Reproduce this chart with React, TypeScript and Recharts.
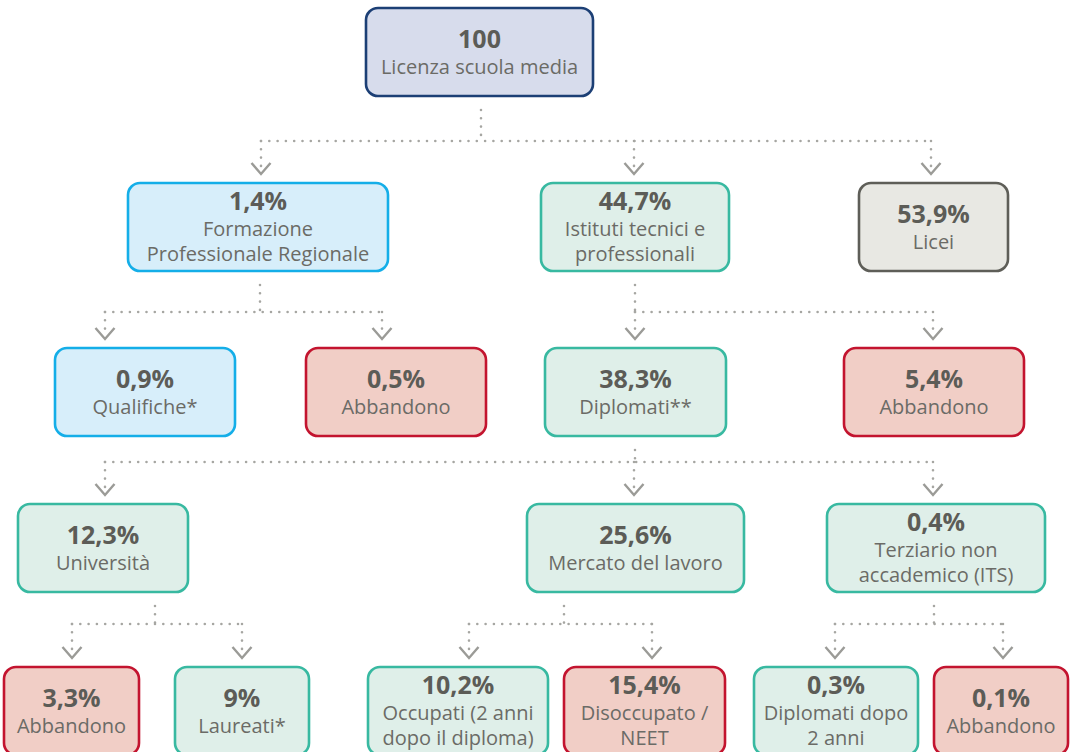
import { ScatterChart, Scatter, XAxis, YAxis, ReferenceLine } from 'recharts';

// flow values and labels
const nodeValues = ['100', '1,4%', '44,7%', '53,9%', '0,9%', '0,5%', '38,3%', '5,4%', '12,3%', '25,6%', '0,4%', '3,3%', '9%', '10,2%', '15,4%', '0,3%', '0,1%'];
const nodeLabels = [
  ['Licenza scuola media'],
  ['Formazione', 'Professionale Regionale'],
  ['Istituti tecnici e', 'professionali'],
  ['Licei'],
  ['Qualifiche*'],
  ['Abbandono'],
  ['Diplomati**'],
  ['Abbandono'],
  ['Università'],
  ['Mercato del lavoro'],
  ['Terziario non', 'accademico (ITS)'],
  ['Abbandono'],
  ['Laureati*'],
  ['Occupati (2 anni', 'dopo il diploma)'],
  ['Disoccupato /', 'NEET'],
  ['Diplomati dopo', '2 anni'],
  ['Abbandono'],
];
const nodeKinds = ['root', 'fpr', 'tech', 'licei', 'fpr', 'drop', 'tech', 'drop', 'tech', 'tech', 'tech', 'drop', 'tech', 'tech', 'drop', 'tech', 'drop'];
const nodeParents = [-1, 0, 0, 0, 1, 1, 2, 2, 6, 6, 6, 8, 8, 9, 9, 10, 10];
const nodeLevels = [0, 1, 1, 1, 2, 2, 2, 2, 3, 3, 3, 4, 4, 4, 4, 4, 4];

// layout (diagram units)
const boxCenterX = [479.5, 258, 635, 933.5, 145, 396, 635.5, 934, 103, 635.5, 936, 71.5, 242, 458, 644.5, 836, 1001];
const boxWidth = [227, 260, 188, 149, 180, 180, 181, 180, 170, 217, 218, 135, 134, 180, 161, 164, 134];
const inX = [0, 261, 634, 931, 105, 382, 635, 933, 105, 634, 933, 72, 242, 469, 652, 835, 1003];
const stemX = [481, 260, 635, 0, 0, 0, 635, 0, 155, 564, 934, 0, 0, 0, 0, 0, 0];
const levelTop = [8, 183, 348, 504, 667];
const barY = [141, 312, 462, 624];

const W = 1075;
const H = 752;
const BOX_H = 88;

const palette: Record<string, { fill: string; stroke: string }> = {
  root: { fill: '#d7dcec', stroke: '#1c3f75' },
  fpr: { fill: '#d7eefa', stroke: '#14aee8' },
  tech: { fill: '#dfefe9', stroke: '#38b9a1' },
  licei: { fill: '#e8e8e3', stroke: '#5e5e58' },
  drop: { fill: '#f1cec6', stroke: '#c3142f' },
};

const boxes = nodeValues.map((value, i) => ({
  x: boxCenterX[i],
  y: levelTop[nodeLevels[i]] + BOX_H / 2,
  value,
  label: nodeLabels[i],
  kind: nodeKinds[i],
  w: boxWidth[i],
}));

type Pt = { x: number; y: number };
const segments: [Pt, Pt][] = [];
const chevrons: Pt[] = [];

nodeValues.forEach((_, p) => {
  const kids = nodeParents.map((q, i) => (q === p ? i : -1)).filter((i) => i >= 0);
  if (!kids.length) return;
  const lvl = nodeLevels[p];
  const by = barY[lvl];
  const sx = stemX[p];
  segments.push([{ x: sx, y: levelTop[lvl] + BOX_H + 14 }, { x: sx, y: by }]);
  const xs = kids.map((k) => inX[k]).concat(sx);
  segments.push([{ x: Math.min(...xs), y: by }, { x: Math.max(...xs), y: by }]);
  kids.forEach((k) => {
    const top = levelTop[nodeLevels[k]];
    segments.push([{ x: inX[k], y: by }, { x: inX[k], y: top - 15 }]);
    chevrons.push({ x: inX[k], y: top - 9 });
  });
});

const FONT = '"Open Sans", "Noto Sans", sans-serif';

function NodeBox(props: any) {
  const { cx, cy, payload } = props;
  const c = palette[payload.kind];
  const n = payload.label.length;
  const base = cy - 4 - 13.5 * (n - 1);
  return (
    <g>
      <rect x={cx - payload.w / 2} y={cy - BOX_H / 2} width={payload.w} height={BOX_H} rx={12} ry={12}
        fill={c.fill} stroke={c.stroke} strokeWidth={2.6} />
      <text x={cx} y={base} textAnchor="middle" fontFamily={FONT} fontSize={25} fontWeight={700} fill="#5c5c57">
        {payload.value}
      </text>
      {payload.label.map((line: string, j: number) => (
        <text key={j} x={cx} y={base + 26 + 25.5 * j} textAnchor="middle" fontFamily={FONT} fontSize={20}
          fill="#6b6b66">
          {line}
        </text>
      ))}
    </g>
  );
}

function Chevron(props: any) {
  const { cx, cy } = props;
  return (
    <path d={`M${cx - 9.5},${cy - 11} L${cx},${cy} L${cx + 9.5},${cy - 11}`} fill="none" stroke="#9b9b97" strokeWidth={2.4} />
  );
}

export default function App() {
  return (
    <div style={{ position: 'absolute', left: 0, top: 0, width: W, height: H, background: '#fff' }}>
      <ScatterChart width={W} height={H} margin={{ top: 0, right: 0, bottom: 0, left: 0 }}>
        <XAxis type="number" dataKey="x" domain={[0, W]} hide />
        <YAxis type="number" dataKey="y" domain={[0, H]} reversed hide />
        {segments.map((s, i) => (
          <ReferenceLine key={i} segment={s} stroke="#a6a6a2" strokeWidth={2.6} strokeDasharray="0 8.3"
            strokeLinecap="round" ifOverflow="extendDomain" />
        ))}
        <Scatter data={chevrons} shape={<Chevron />} isAnimationActive={false} />
        <Scatter data={boxes} shape={<NodeBox />} isAnimationActive={false} />
      </ScatterChart>
    </div>
  );
}
